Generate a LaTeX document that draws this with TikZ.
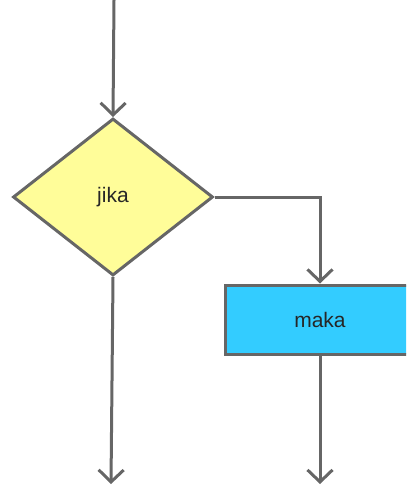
\documentclass[tikz,border=0pt]{standalone}
\usepackage{fontspec}
\setmainfont{Liberation Sans}
\usetikzlibrary{shapes.geometric,arrows.meta}
\definecolor{linegray}{HTML}{666666}
\definecolor{dfill}{HTML}{FFFD99}
\definecolor{bfill}{HTML}{33CCFF}
\begin{document}
\begin{tikzpicture}[x=1pt,y=-1pt,
  conn/.style={draw=linegray,line width=3pt,-{Straight Barb[length=12pt,width=25pt,line width=3pt]}},
  decision/.style={shape=diamond,draw=linegray,line width=3pt,fill=dfill,minimum width=200pt,minimum height=157pt,inner sep=0pt,font=\fontsize{21pt}{24pt}\selectfont,text=black!85},
  process/.style={shape=rectangle,draw=linegray,line width=3pt,fill=bfill,minimum width=190pt,minimum height=69pt,inner sep=0pt,font=\fontsize{21pt}{24pt}\selectfont,text=black!85}]
\useasboundingbox (0,0) rectangle (406,486);
\begin{scope}
\clip (0,0) rectangle (406,486);
\coordinate (start) at (114,0);
\node[decision] (jika) at (113,197) {jika};
\node[process] (maka) at (320,319.5) {maka};
\coordinate (corner) at (320,197);
\coordinate (endL) at (111,484);
\coordinate (endR) at (320,484);
\draw[conn] (start) -- (jika.north);
\draw[conn] (jika.east) -- (corner) -- (maka.north);
\draw[conn] (jika.south) -- (endL);
\draw[conn] (maka.south) -- (endR);
\end{scope}
\end{tikzpicture}
\end{document}
